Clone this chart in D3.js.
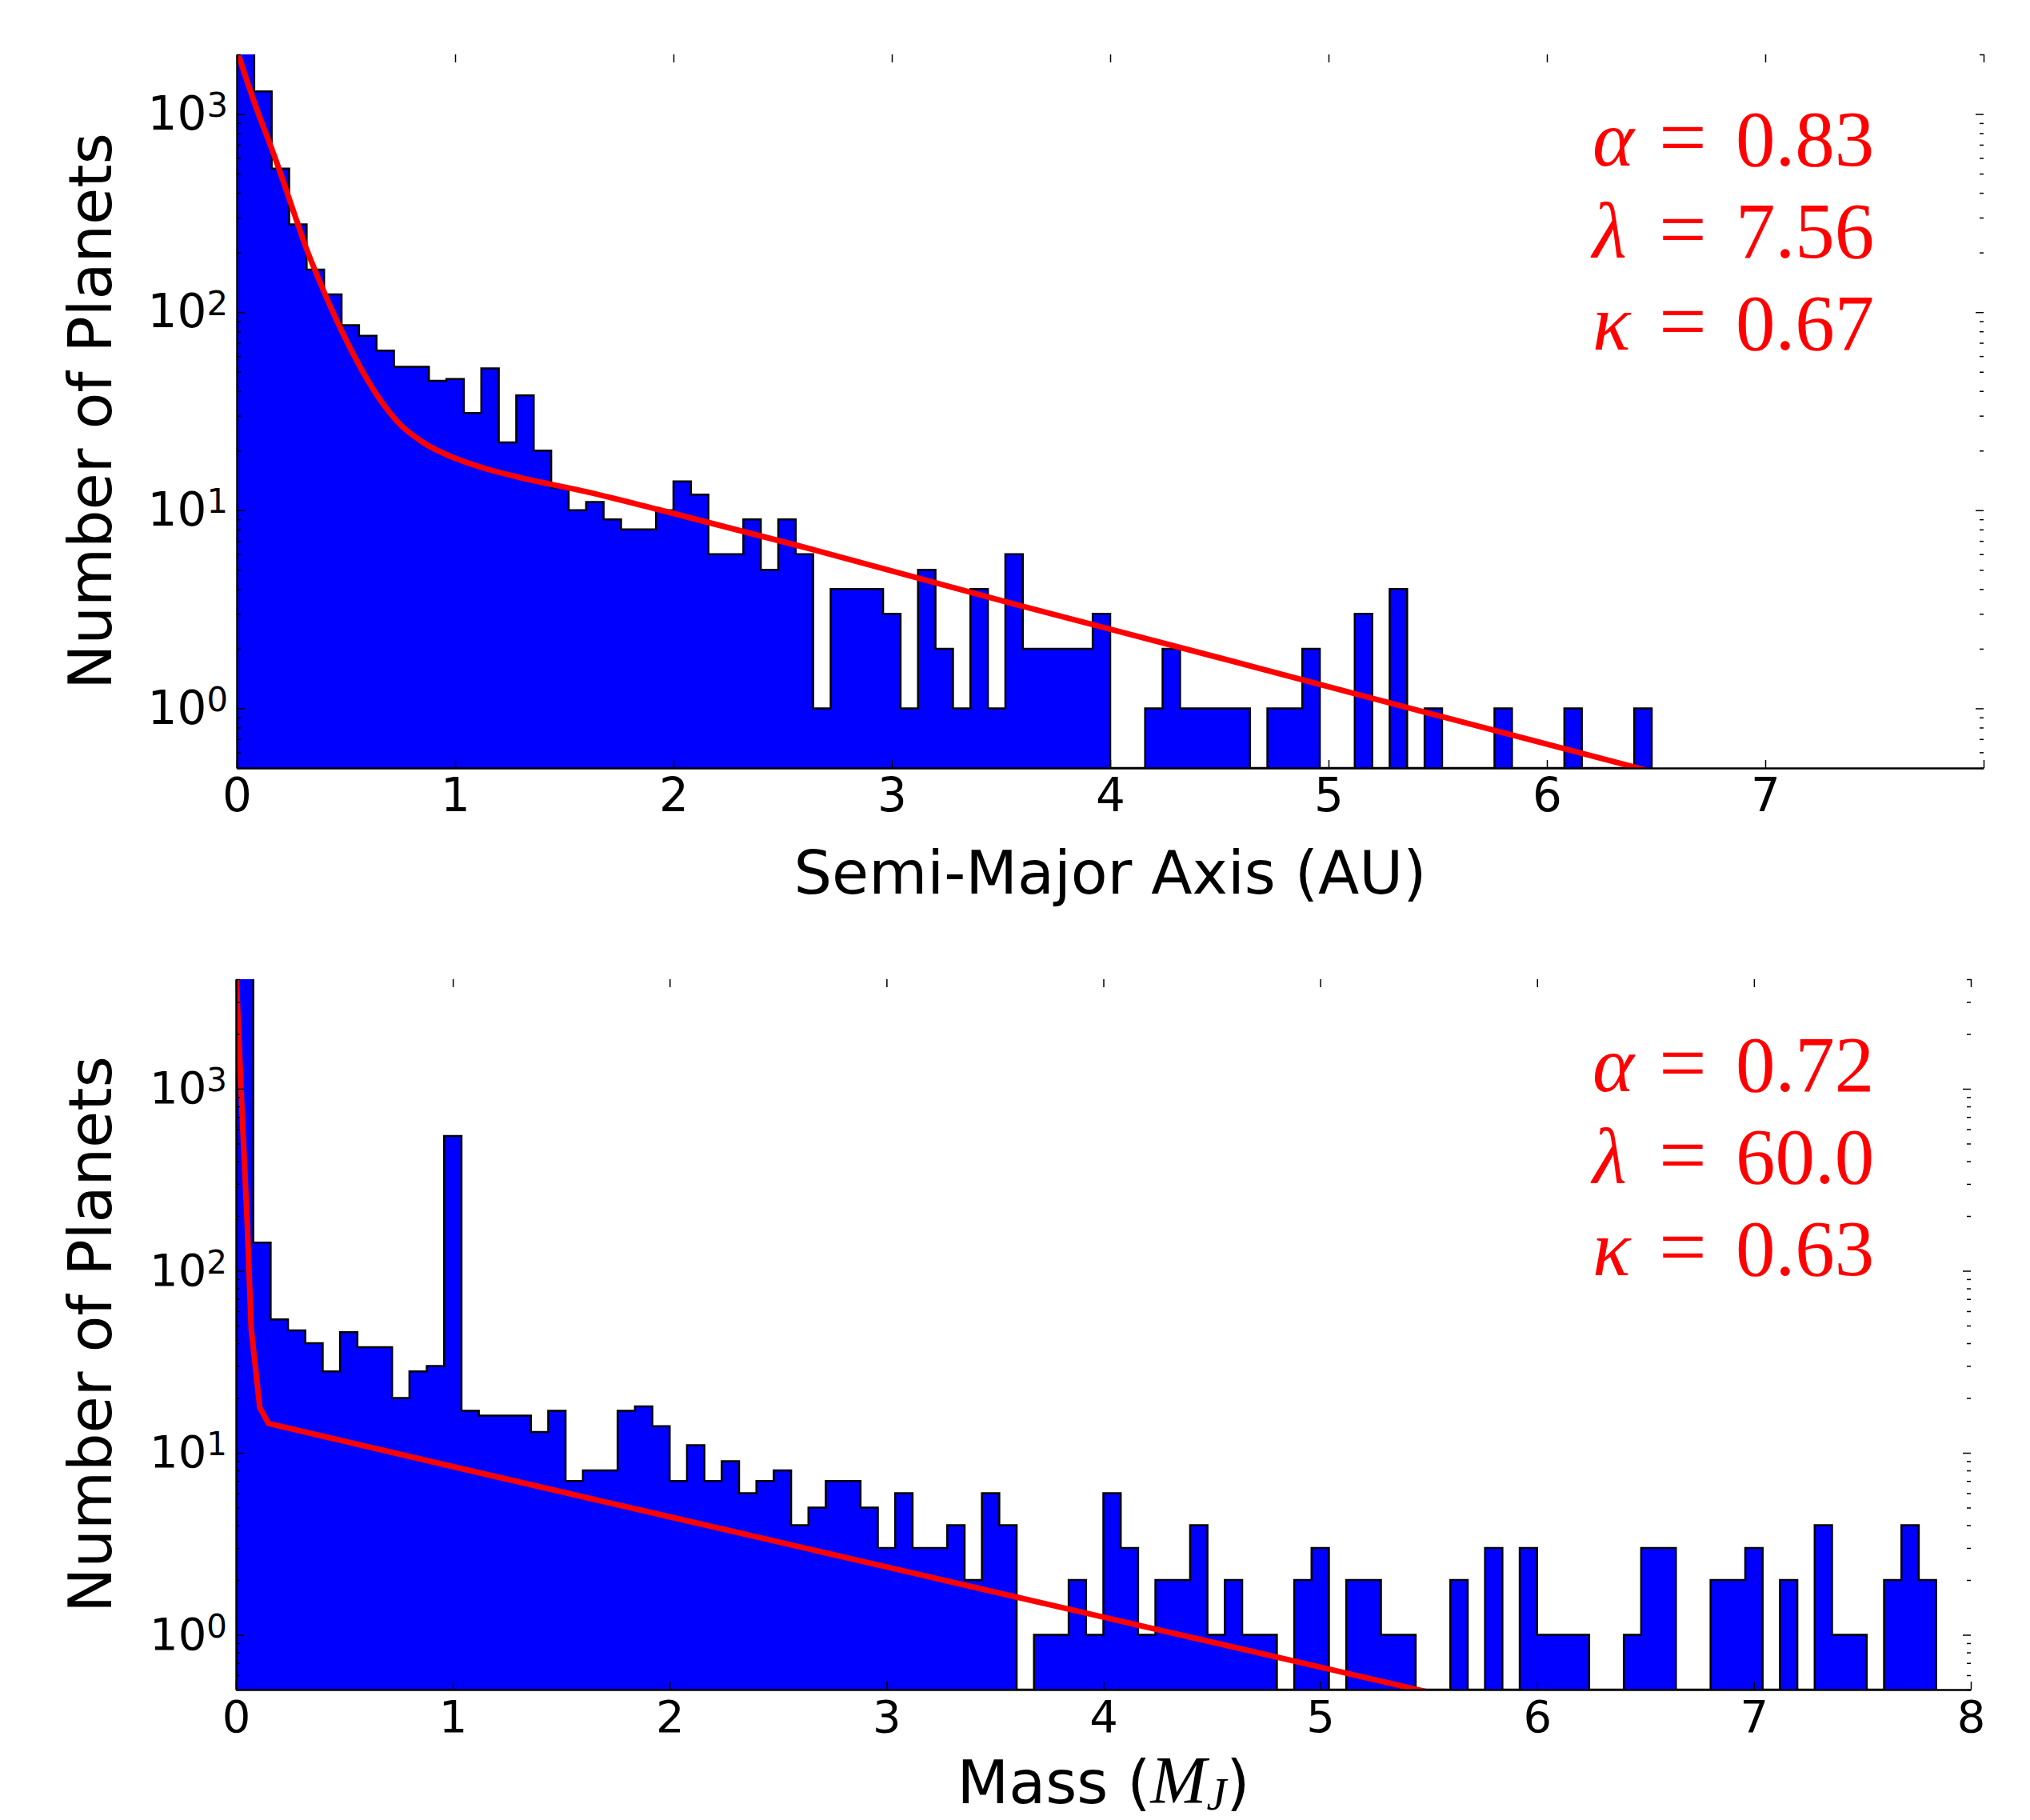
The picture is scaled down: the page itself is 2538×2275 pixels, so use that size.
<!DOCTYPE html>
<html>
<head>
<meta charset="utf-8">
<script src="https://cdn.jsdelivr.net/npm/d3@7"></script>
<style>
  body { margin: 0; background: #fff; }
  svg { font-family: "DejaVu Sans", sans-serif; }
</style>
</head>
<body>
<svg id="chart" width="2538" height="2275"></svg>
<script>
// ---------- data ----------
// top panel: semi-major axis histogram (bins of 0.08 AU starting at 0)
var semiMajorBinStart = 0.0;
var semiMajorBinWidth = 0.08;
var semiMajorCounts = [
    2600, 1300, 530, 277, 164, 123, 86, 76, 64, 53,
    53, 45, 46, 31, 52, 22, 38, 20, 13, 10,
    11, 9, 8, 8, 10, 14, 12, 6, 6, 9,
    5, 9, 6, 1, 4, 4, 4, 3, 1, 5,
    2, 1, 4, 1, 6, 2, 2, 2, 2, 3,
    0, 0, 1, 2, 1, 1, 1, 1, 0, 1,
    1, 2, 0, 0, 3, 0, 4, 0, 1, 0,
    0, 0, 1, 0, 0, 0, 1, 0, 0, 0,
    1
];
var semiMajorFitX = [0.007, 0.08, 0.179, 0.257, 0.315, 0.383, 0.479, 0.549, 0.643, 0.736,
    0.853, 1.0, 1.133, 1.3, 1.6, 1.928, 2.577, 3.5, 4.5, 5.5, 6.48];
var semiMajorFitY = [2000, 1150, 586, 330, 215, 140, 81, 57, 38, 28,
    22, 18.3, 16.3, 14.6, 12.4, 10.1, 6.6, 3.5, 1.8, 0.92, 0.48];
var semiMajorParams = ["0.83", "7.56", "0.67"];

// bottom panel: mass histogram (bins of 0.08 M_J starting at 0)
var massBinStart = 0.0;
var massBinWidth = 0.08;
var massCounts = [
    6000, 143, 54, 47, 40, 28, 46, 38, 38, 20,
    28, 30, 550, 17, 16, 16, 16, 13, 17, 7,
    8, 8, 17, 18, 14, 7, 11, 7, 9, 6,
    7, 8, 4, 5, 7, 7, 5, 3, 6, 3,
    3, 4, 2, 6, 4, 0, 1, 1, 2, 1,
    6, 3, 1, 2, 2, 4, 1, 2, 1, 1,
    0, 2, 3, 0, 2, 2, 1, 1, 0, 0,
    2, 0, 3, 0, 3, 1, 1, 1, 0, 0,
    1, 3, 3, 0, 0, 2, 2, 3, 0, 2,
    0, 4, 1, 1, 0, 2, 4, 2
];
var massFitX = [0.002, 0.028, 0.052, 0.0705, 0.11, 0.15, 1.0, 2.0, 3.0, 4.0, 5.0, 5.5];
var massFitY = [4000, 750, 183, 47.7, 17.7, 14.5, 8.4, 4.45, 2.36, 1.25, 0.665, 0.484];
var massParams = ["0.72", "60.0", "0.63"];

var paramSymbols = ["α", "λ", "κ"];
var xTickValues = [0, 1, 2, 3, 4, 5, 6, 7, 8];
var topXTickLabels = ["0", "1", "2", "3", "4", "5", "6", "7"];
var bottomXTickLabels = ["0", "1", "2", "3", "4", "5", "6", "7", "8"];
var yTickValues = [1, 10, 100, 1000];
var yTickExponents = ["0", "1", "2", "3"];

var svg = d3.select("#chart");

/**
 * Draw one log-scaled step histogram with its fitted curve and labels.
 */
function drawPanel(opts) {

    var x = d3.scaleLinear().domain([0, 8]).range([opts.left, opts.right]);
    var y = d3.scaleLog().domain(opts.yDomain).range([opts.bottom, opts.top]);
    var floor = opts.yDomain[0];

    svg.append("clipPath").attr("id", opts.name + "-clip")
        .append("rect")
        .attr("x", opts.left)
        .attr("y", opts.top)
        .attr("width", opts.right - opts.left)
        .attr("height", opts.bottom - opts.top);

    var plot = svg.append("g").attr("clip-path", "url(#" + opts.name + "-clip)");

    // stepped outline, empty bins sit on the bottom of the axis
    var n = opts.counts.length;
    var end = opts.binStart + n * opts.binWidth;
    var steps = [[opts.binStart, floor]];
    opts.counts.forEach((c, i) => steps.push([opts.binStart + i * opts.binWidth, Math.max(c, floor)]));
    steps.push([end, Math.max(opts.counts[n - 1], floor)]);
    steps.push([end, floor]);

    var stepLine = d3.line()
        .x(d => x(d[0]))
        .y(d => y(d[1]))
        .curve(d3.curveStepAfter);

    plot.append("path")
        .attr("d", stepLine(steps))
        .attr("fill", "#0000ff")
        .attr("stroke", "#000")
        .attr("stroke-width", 2.5);

    var fit = opts.fitX.map((v, i) => [v, opts.fitY[i]]);
    plot.append("path")
        .attr("d", d3.line().x(d => x(d[0])).y(d => y(d[1])).curve(opts.fitCurve)(fit))
        .attr("fill", "none")
        .attr("stroke", "#ff0000")
        .attr("stroke-width", 7)
        .attr("stroke-linejoin", "round");

    var minor = y.ticks().filter(t => Math.abs(Math.log10(t) - Math.round(Math.log10(t))) > 1e-6);

    // bottom axis with labels
    var xAxis = svg.append("g")
        .attr("transform", "translate(0," + opts.bottom + ")")
        .call(d3.axisBottom(x).tickValues(xTickValues).tickSizeInner(-10).tickSizeOuter(0)
            .tickPadding(13).tickFormat((d, i) => opts.xLabels[i] || ""));
    xAxis.attr("font-size", opts.tickFont).attr("font-family", "DejaVu Sans");
    xAxis.select(".domain").attr("stroke-width", 2.5);

    // top ticks only
    var topAxis = svg.append("g")
        .attr("transform", "translate(0," + opts.top + ")")
        .call(d3.axisTop(x).tickValues(xTickValues).tickSizeInner(-10).tickSizeOuter(0).tickFormat(""));
    topAxis.select(".domain").remove();

    // left axis, majors with 10^k labels
    var yAxis = svg.append("g")
        .attr("transform", "translate(" + opts.left + ",0)")
        .call(d3.axisLeft(y).tickValues(yTickValues).tickSizeInner(-10).tickSizeOuter(0)
            .tickPadding(11).tickFormat(""));
    yAxis.attr("font-size", opts.tickFont).attr("font-family", "DejaVu Sans");
    yAxis.select(".domain").attr("stroke-width", 2.5);
    yAxis.selectAll(".tick text").each(function (d, i) {
        var t = d3.select(this);
        t.append("tspan").text("10");
        t.append("tspan")
            .attr("dy", -opts.tickFont * 0.27)
            .attr("font-size", opts.tickFont * 0.72)
            .text(yTickExponents[i]);
    });

    svg.append("g")
        .attr("transform", "translate(" + opts.left + ",0)")
        .call(d3.axisLeft(y).tickValues(minor).tickSizeInner(-5).tickSizeOuter(0).tickFormat(""))
        .select(".domain").remove();

    // right ticks only
    svg.append("g")
        .attr("transform", "translate(" + opts.right + ",0)")
        .call(d3.axisRight(y).tickValues(yTickValues).tickSizeInner(-10).tickSizeOuter(0).tickFormat(""))
        .select(".domain").remove();
    svg.append("g")
        .attr("transform", "translate(" + opts.right + ",0)")
        .call(d3.axisRight(y).tickValues(minor).tickSizeInner(-5).tickSizeOuter(0).tickFormat(""))
        .select(".domain").remove();

    svg.selectAll(".tick line").attr("stroke", "#000").attr("stroke-width", 1.5);

    // axis titles
    svg.append("text")
        .attr("transform", "translate(139," + (opts.top + opts.bottom) / 2 + ") rotate(-90)")
        .attr("text-anchor", "middle")
        .attr("font-size", 75)
        .text("Number of Planets");

    var xTitle = svg.append("text")
        .attr("x", (opts.left + opts.right) / 2)
        .attr("y", opts.xTitleY)
        .attr("text-anchor", "middle")
        .attr("font-size", 75);
    opts.xTitle(xTitle);

    // fitted parameters
    paramSymbols.forEach((s, i) => {
        var row = svg.append("text")
            .attr("y", opts.paramY + i * 115)
            .attr("fill", "#ff0000")
            .attr("font-family", "Liberation Serif")
            .attr("font-size", 99);
        row.append("tspan").attr("x", 1991).attr("font-style", "italic").text(s);
        row.append("tspan").attr("x", 2074).attr("font-size", 106).text("=");
        row.append("tspan").attr("x", 2170).text(opts.params[i]);
    });
}

drawPanel({
    name: "semimajor",
    left: 296, right: 2480, top: 68, bottom: 960,
    yDomain: [0.5, 2000],
    counts: semiMajorCounts,
    binStart: semiMajorBinStart,
    binWidth: semiMajorBinWidth,
    fitX: semiMajorFitX,
    fitY: semiMajorFitY,
    fitCurve: d3.curveMonotoneX,
    xLabels: topXTickLabels,
    tickFont: 58,
    xTitleY: 1117,
    xTitle: t => t.text("Semi-Major Axis (AU)"),
    params: semiMajorParams,
    paramY: 207
});

drawPanel({
    name: "mass",
    left: 295, right: 2464, top: 1224, bottom: 2112,
    yDomain: [0.5, 4000],
    counts: massCounts,
    binStart: massBinStart,
    binWidth: massBinWidth,
    fitX: massFitX,
    fitY: massFitY,
    fitCurve: d3.curveLinear,
    xLabels: bottomXTickLabels,
    tickFont: 56,
    xTitleY: 2254,
    xTitle: t => {
        t.append("tspan").text("Mass (");
        t.append("tspan").attr("font-family", "Liberation Serif").attr("font-style", "italic")
            .attr("font-size", 84).text("M");
        t.append("tspan").attr("font-family", "Liberation Serif").attr("font-style", "italic")
            .attr("font-size", 56).attr("dy", 8).text("J");
        t.append("tspan").attr("dy", -8).text(")");
    },
    params: massParams,
    paramY: 1364
});
</script>
</body>
</html>
